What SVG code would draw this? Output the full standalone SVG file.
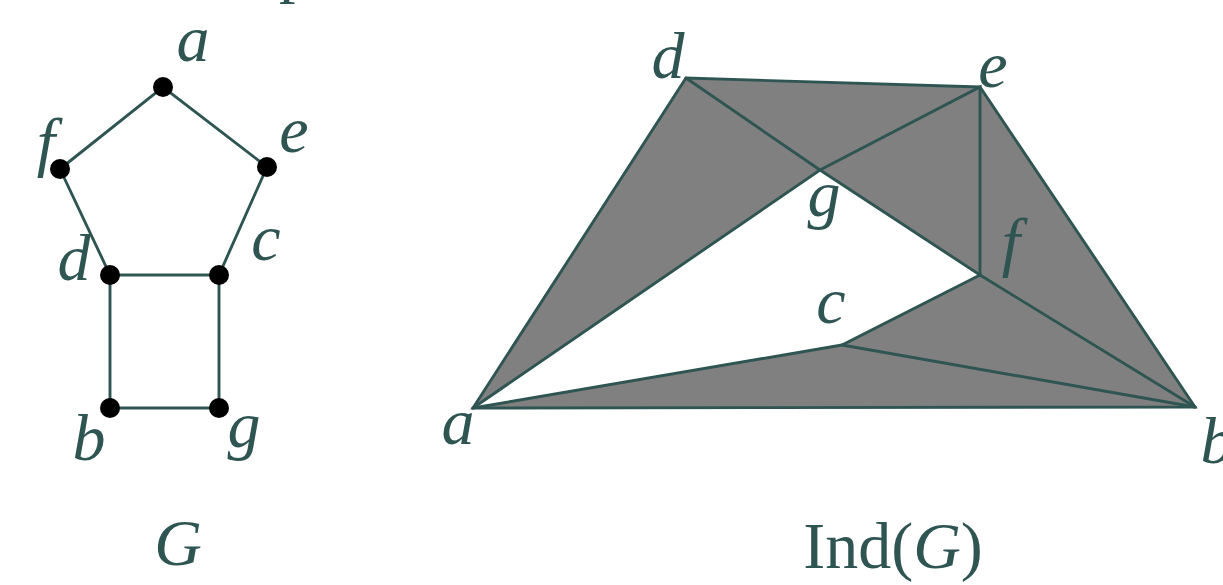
<svg xmlns="http://www.w3.org/2000/svg" width="1223" height="585" viewBox="0 0 1223 585">
<style>
.lbl{font-family:"Liberation Serif","DejaVu Serif",serif;font-style:italic;font-size:66px;fill:#2F5553;text-anchor:middle}
.up{font-style:normal}
.e{stroke:#2F5553;stroke-width:2.9;fill:none;stroke-linecap:round}
.dot{fill:#000}
</style>
<rect width="1223" height="585" fill="#fff"/>
<text class="lbl up" x="279" y="-10" style="text-anchor:start">p</text>
<g id="G-graph">
<g id="G-edges">
<polyline class="e" points="60,169 163,87 267,167 219,275 110,275 60,169"/>
<polyline class="e" points="110,275 110,408 219,408 219,275"/>
</g>
<g id="G-a"><circle class="dot" cx="163" cy="87" r="10"/><text class="lbl" x="193" y="61">a</text></g>
<g id="G-f"><circle class="dot" cx="60" cy="169" r="10"/><text class="lbl" x="46" y="164">f</text></g>
<g id="G-e"><circle class="dot" cx="267" cy="167" r="10"/><text class="lbl" x="294" y="152">e</text></g>
<g id="G-d"><circle class="dot" cx="110" cy="275" r="10"/><text class="lbl" x="74" y="280">d</text></g>
<g id="G-c"><circle class="dot" cx="219" cy="275" r="10"/><text class="lbl" x="266" y="260">c</text></g>
<g id="G-b"><circle class="dot" cx="110" cy="408" r="10"/><text class="lbl" x="89" y="460">b</text></g>
<g id="G-g"><circle class="dot" cx="219" cy="408" r="10"/><text class="lbl" x="244" y="447">g</text></g>
<text class="lbl" x="178" y="565">G</text>
</g>
<g id="Ind-complex">
<path d="M473,408 L686,78 L980,87 L1195,407 Z M473,408 L842,345 L980,275 L820,170 Z" fill="#808080" fill-rule="evenodd"/>
<g id="Ind-edges">
<polygon class="e" points="473,408 686,78 980,87 1195,407"/>
<polyline class="e" points="686,78 820,170 980,275"/>
<polyline class="e" points="473,408 820,170 980,87 980,275"/>
<polyline class="e" points="980,275 1195,407"/>
<polyline class="e" points="473,408 842,345 980,275"/>
<polyline class="e" points="842,345 1195,407"/>
</g>
<g id="I-d"><text class="lbl" x="668" y="78">d</text></g>
<g id="I-e"><text class="lbl" x="993" y="87">e</text></g>
<g id="I-g"><text class="lbl" x="824" y="216">g</text></g>
<g id="I-f"><text class="lbl" x="1011" y="264">f</text></g>
<g id="I-c"><text class="lbl" x="831" y="323">c</text></g>
<g id="I-a"><text class="lbl" x="458" y="444">a</text></g>
<g id="I-b"><text class="lbl" x="1217" y="463">b</text></g>
<text class="lbl" x="893" y="568"><tspan class="up">Ind(</tspan>G<tspan class="up">)</tspan></text>
</g>
</svg>
